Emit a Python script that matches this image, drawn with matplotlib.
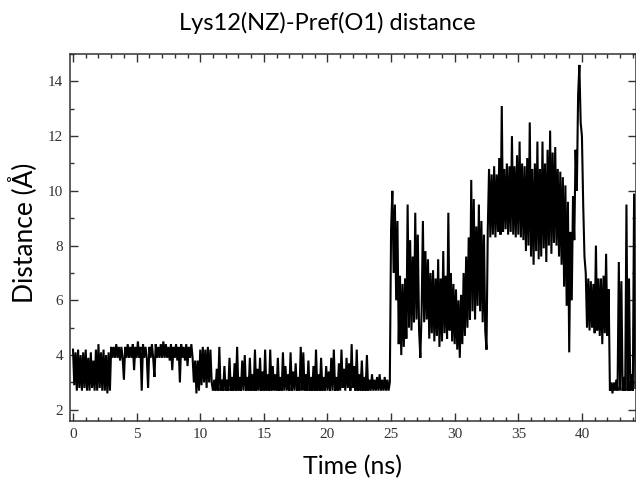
import numpy as np
import matplotlib
matplotlib.use("Agg")
import matplotlib.pyplot as plt
from matplotlib.ticker import MultipleLocator

step_ns = 0.1

dist_00_10 = [
    4.2, 2.9, 4.1, 2.7, 4.2, 2.8, 4.0, 2.7, 4.1, 2.8,
    4.2, 2.7, 3.9, 2.7, 4.1, 2.8, 3.8, 2.7, 4.2, 2.7,
    4.4, 2.8, 4.1, 2.7, 4.2, 2.7, 4.0, 2.6, 4.1, 2.7,
    4.3, 3.9, 4.3, 3.9, 4.4, 3.9, 4.3, 3.8, 4.3, 3.9,
    3.1, 4.3, 3.9, 4.4, 3.9, 4.3, 3.9, 4.4, 3.45, 4.3,
    3.9, 4.5, 3.9, 4.3, 2.7, 4.4, 3.9, 4.3, 3.9, 2.8,
    4.3, 3.9, 4.4, 3.9, 3.2, 4.4, 3.9, 4.3, 3.9, 4.4,
    3.9, 4.5, 3.9, 4.4, 3.9, 4.3, 3.8, 4.4, 3.45, 4.3,
    3.9, 4.4, 3.8, 4.3, 3.0, 4.4, 3.9, 4.3, 3.8, 4.4,
    3.6, 4.3, 3.9, 4.4, 3.9, 3.0, 3.8, 2.6, 3.8, 2.7,
]

dist_10_20 = [
    4.2, 2.9, 4.3, 3.0, 4.2, 2.8, 4.3, 3.0, 4.2, 3.0,
    2.7, 3.1, 2.7, 3.5, 2.7, 4.3, 2.7, 3.1, 2.7, 3.6,
    2.7, 3.1, 2.7, 3.9, 2.7, 3.2, 2.7, 3.7, 2.7, 4.3,
    2.7, 3.2, 2.7, 3.8, 2.7, 4.0, 2.7, 3.2, 2.7, 3.9,
    2.7, 3.3, 2.7, 4.2, 2.7, 3.5, 2.7, 3.9, 2.7, 3.4,
    2.7, 4.2, 2.7, 3.3, 2.7, 4.2, 2.7, 3.6, 2.7, 3.3,
    2.7, 3.9, 2.7, 3.2, 2.7, 4.1, 2.7, 3.6, 2.7, 3.3,
    2.7, 4.1, 2.7, 3.4, 2.7, 3.7, 2.7, 3.2, 2.7, 4.3,
    2.7, 4.1, 2.7, 3.3, 2.7, 3.8, 2.7, 3.2, 2.7, 3.6,
    2.7, 4.2, 2.7, 3.3, 2.7, 3.9, 2.7, 3.2, 2.7, 3.6,
]

dist_20_30 = [
    2.7, 3.4, 2.7, 3.9, 2.7, 4.2, 2.7, 3.2, 2.7, 3.7,
    2.7, 4.2, 2.8, 3.5, 2.7, 3.9, 2.8, 3.7, 2.7, 4.4,
    2.8, 3.6, 2.7, 4.2, 2.7, 3.3, 2.7, 3.8, 2.7, 3.2,
    2.7, 4.0, 2.7, 3.1, 2.7, 3.3, 2.7, 3.1, 2.7, 3.2,
    2.7, 3.3, 2.7, 3.1, 2.7, 3.2, 2.7, 3.1, 2.7, 3.0,
    8.6, 10.0, 7.0, 9.5, 6.0, 8.9, 4.4, 6.9, 4.0, 6.6,
    4.3, 6.8, 4.6, 9.5, 5.0, 8.2, 4.9, 7.6, 5.2, 9.2,
    5.3, 8.4, 4.9, 3.9, 5.6, 8.9, 5.2, 7.8, 5.3, 7.5,
    4.6, 7.0, 4.8, 7.1, 4.5, 6.8, 4.7, 7.5, 4.3, 6.8,
    4.5, 7.8, 4.8, 6.9, 4.6, 9.2, 4.9, 7.0, 4.5, 6.6,
]

dist_30_40 = [
    4.4, 6.4, 4.2, 6.0, 3.9, 6.2, 4.4, 7.0, 4.7, 7.6,
    5.0, 8.3, 5.3, 10.4, 5.6, 9.7, 5.3, 8.7, 5.8, 9.5,
    5.6, 8.9, 5.2, 8.4, 4.9, 4.2, 8.6, 10.8, 8.3, 10.6,
    8.4, 10.9, 8.3, 10.6, 8.5, 11.2, 8.4, 13.1, 8.5, 10.8,
    8.6, 11.0, 8.4, 10.9, 8.5, 12.0, 8.4, 10.9, 8.3, 11.3,
    8.4, 11.8, 8.3, 11.0, 8.2, 10.9, 7.8, 11.2, 8.0, 12.5,
    7.6, 10.8, 7.3, 11.0, 7.8, 11.8, 7.5, 10.8, 7.6, 11.8,
    7.9, 11.0, 7.4, 11.5, 8.0, 12.2, 7.7, 11.4, 8.1, 11.6,
    8.0, 10.8, 7.6, 10.7, 7.3, 10.5, 6.5, 10.2, 5.8, 9.6,
    4.1, 8.5, 6.0, 9.8, 8.2, 11.5, 10.0, 13.5, 14.6, 12.5,
]

dist_40_44 = [
    12.0, 9.5, 7.6, 7.0, 5.0, 6.8, 4.9, 6.7, 5.0, 6.6,
    4.8, 8.0, 4.9, 6.8, 4.7, 6.8, 4.4, 6.9, 4.8, 7.7,
    4.7, 6.4, 2.7, 3.0, 2.6, 3.0, 2.7, 3.1, 2.7, 7.4,
    2.7, 6.7, 2.7, 3.2, 2.7, 9.5, 2.7, 6.8, 2.7, 3.3,
    2.7, 9.9, 2.8,
]

distance = np.array(dist_00_10 + dist_10_20 + dist_20_30 + dist_30_40 + dist_40_44)
time_ns = np.arange(len(distance)) * step_ns

x_ticks = [0, 5, 10, 15, 20, 25, 30, 35, 40]
y_ticks = [2, 4, 6, 8, 10, 12, 14]

fig = plt.figure(figsize=(6.36, 4.82), dpi=100)
ax = fig.add_axes([0.110, 0.127, 0.890, 0.761])

ax.plot(time_ns, distance, color="black", lw=1.5, solid_joinstyle="miter")

ax.set_xlim(-0.24, 44.25)
ax.set_ylim(1.6, 15.0)
ax.set_xticks(x_ticks)
ax.set_yticks(y_ticks)
ax.xaxis.set_minor_locator(MultipleLocator(1))
ax.yaxis.set_minor_locator(MultipleLocator(1))
ax.tick_params(which="both", direction="in", top=True, right=True, color="#333333")
ax.tick_params(which="major", length=6, width=1.0, labelsize=11, labelcolor="#333333", pad=5)
ax.tick_params(which="minor", length=3, width=1.0)
for lab in ax.get_xticklabels() + ax.get_yticklabels():
    lab.set_family("Liberation Serif")
for sp in ax.spines.values():
    sp.set_linewidth(1.1)
    sp.set_color("#333333")

ax.set_xlabel("Time (ns)", family="Lato", fontsize=18, labelpad=10)
ax.set_ylabel("Distance (Å)", family="Lato", fontsize=19)
ax.yaxis.set_label_coords(-0.058, 0.512)
fig.text(0.514, 0.953, "Lys12(NZ)-Pref(O1) distance", family="Lato", fontsize=17,
         ha="center", va="center")

fig.savefig("out.png", dpi=100)
plt.close(fig)
